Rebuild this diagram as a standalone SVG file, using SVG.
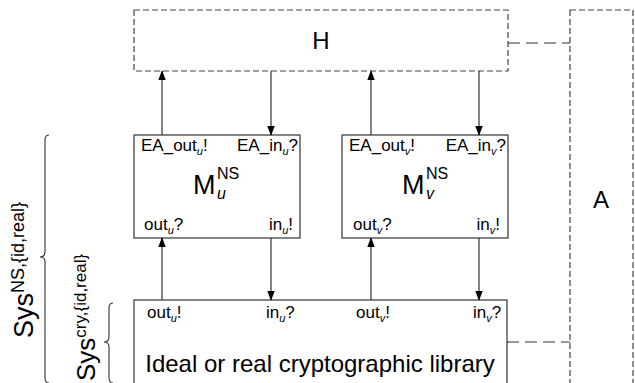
<svg xmlns="http://www.w3.org/2000/svg" width="635" height="383" viewBox="0 0 635 383">
<style>
  text { font-family: "Liberation Sans", Arial, sans-serif; fill: #000; }
  .box { fill: #fff; stroke: #333; stroke-width: 1.2; }
  .dbox { fill: none; stroke: #444; stroke-width: 1.2; stroke-dasharray: 6 3; }
  .dline { fill: none; stroke: #333; stroke-width: 1.2; stroke-dasharray: 12 6; }
  .conn { stroke: #333; stroke-width: 1.2; fill: none; marker-end: url(#ah); }
  .brace { fill: none; stroke: #333; stroke-width: 1.1; }
  .s { font-size: 17px; }
  .sub { font-size: 11px; font-style: italic; }
  .big { font-size: 24px; }
</style>
<defs>
  <marker id="ah" markerWidth="10" markerHeight="12" refX="11" refY="4.5" orient="auto" markerUnits="userSpaceOnUse" viewBox="0 0 12 9">
    <path d="M0,0 L12,4.5 L0,9 Z" fill="#000"/>
  </marker>
</defs>

<g id="H">
  <rect class="dbox" x="134" y="10" width="374" height="61"/>
  <text class="big" x="321" y="49" text-anchor="middle">H</text>
</g>

<g id="A">
  <rect class="dbox" x="570" y="10" width="63" height="390"/>
  <text class="big" x="601" y="208" text-anchor="middle">A</text>
</g>

<g id="Mu">
  <rect class="box" x="134" y="135" width="166" height="103"/>
  <text class="s" x="141" y="151">EA_out<tspan class="sub" dy="4">u</tspan><tspan dy="-4">!</tspan></text>
  <text class="s" x="298" y="151" text-anchor="end">EA_in<tspan class="sub" dy="4">u</tspan><tspan dy="-4">?</tspan></text>
  <text style="font-size:27px" x="193" y="194">M</text>
  <text style="font-size:16px" x="217" y="179">NS</text>
  <text style="font-size:16px;font-style:italic" x="217" y="199">u</text>
  <text class="s" x="144" y="230">out<tspan class="sub" dy="4">u</tspan><tspan dy="-4">?</tspan></text>
  <text class="s" x="293" y="230" text-anchor="end">in<tspan class="sub" dy="4">u</tspan><tspan dy="-4">!</tspan></text>
</g>

<g id="Mv">
  <rect class="box" x="342" y="135" width="166" height="103"/>
  <text class="s" x="349" y="151">EA_out<tspan class="sub" dy="4">v</tspan><tspan dy="-4">!</tspan></text>
  <text class="s" x="506" y="151" text-anchor="end">EA_in<tspan class="sub" dy="4">v</tspan><tspan dy="-4">?</tspan></text>
  <text style="font-size:27px" x="402" y="194">M</text>
  <text style="font-size:16px" x="426" y="179">NS</text>
  <text style="font-size:16px;font-style:italic" x="426" y="199">v</text>
  <text class="s" x="353" y="230">out<tspan class="sub" dy="4">v</tspan><tspan dy="-4">?</tspan></text>
  <text class="s" x="500" y="230" text-anchor="end">in<tspan class="sub" dy="4">v</tspan><tspan dy="-4">!</tspan></text>
</g>

<g id="Lib">
  <rect class="box" x="134" y="300" width="373" height="95"/>
  <text class="s" x="147" y="318">out<tspan class="sub" dy="4">u</tspan><tspan dy="-4">!</tspan></text>
  <text class="s" x="266" y="318">in<tspan class="sub" dy="4">u</tspan><tspan dy="-4">?</tspan></text>
  <text class="s" x="356" y="318">out<tspan class="sub" dy="4">v</tspan><tspan dy="-4">!</tspan></text>
  <text class="s" x="473" y="318">in<tspan class="sub" dy="4">v</tspan><tspan dy="-4">?</tspan></text>
  <text class="big" x="320" y="372" text-anchor="middle">Ideal or real cryptographic library</text>
</g>

<g id="SysNS">
  <path class="brace" d="M49,135 Q45,135 45,140 L45,252 Q45,257 40,257 Q45,257 45,262 L45,378 Q45,383 49,383"/>
  <text transform="translate(33,338) rotate(-90)" style="font-size:27px">Sys<tspan style="font-size:18px" dy="-9">NS,{id,real}</tspan></text>
</g>

<g id="SysCry">
  <path class="brace" d="M113,303 Q109,303 109,308 L109,337 Q109,342 104,342 Q109,342 109,347 L109,378 Q109,383 113,383"/>
  <text transform="translate(95,381) rotate(-90)" style="font-size:26px">Sys<tspan style="font-size:17px" dy="-9">cry,{id,real}</tspan></text>
</g>

<g id="connectors">
  <line class="conn" x1="162" y1="135" x2="162" y2="71"/>
  <line class="conn" x1="271" y1="71" x2="271" y2="135"/>
  <line class="conn" x1="371" y1="135" x2="371" y2="71"/>
  <line class="conn" x1="479" y1="71" x2="479" y2="135"/>
  <line class="conn" x1="162" y1="300" x2="162" y2="238"/>
  <line class="conn" x1="271" y1="238" x2="271" y2="300"/>
  <line class="conn" x1="371" y1="300" x2="371" y2="238"/>
  <line class="conn" x1="479" y1="238" x2="479" y2="300"/>
  <polyline class="dline" points="508,43 570,43"/>
  <polyline class="dline" points="507,342 570,342"/>
</g>
</svg>
